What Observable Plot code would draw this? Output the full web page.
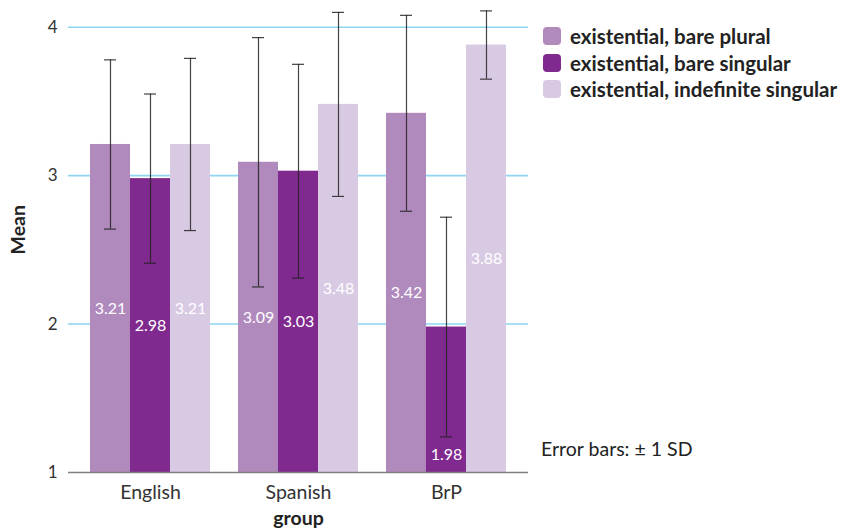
<!DOCTYPE html>
<html>
<head>
<meta charset="utf-8">
<script src="https://cdn.jsdelivr.net/npm/d3@7"></script>
<script src="https://cdn.jsdelivr.net/npm/@observablehq/plot@0.6"></script>
<style>
  html, body { margin: 0; padding: 0; background: #fff; }
  #wrap { position: relative; width: 844px; height: 532px; font-family: Lato, "Open Sans", sans-serif; color: #222; }
  #wrap svg { position: absolute; left: 0; top: 0; }
  .legend { position: absolute; left: 543px; top: 23px; }
  .legend .row { display: flex; align-items: center; height: 26.5px; font-weight: bold; font-size: 20.5px; white-space: nowrap; }
  .legend .sw { width: 18px; height: 18px; border-radius: 4px; margin-right: 9px; flex: none; }
  .note { position: absolute; left: 541px; top: 437px; font-size: 19.5px; color: #222; white-space: nowrap; }
</style>
</head>
<body>
<div id="wrap"></div>
<script>
// Mean rating per group and condition, with standard deviations
const groups = ["English", "Spanish", "BrP"];
const series = ["existential, bare plural", "existential, bare singular", "existential, indefinite singular"];
const colors = ["#b089bd", "#80298f", "#d9cae4"];
const meanBarePlural = [3.21, 3.09, 3.42];
const meanBareSingular = [2.98, 3.03, 1.98];
const meanIndefSingular = [3.21, 3.48, 3.88];
const sdBarePlural = [0.57, 0.84, 0.66];
const sdBareSingular = [0.57, 0.72, 0.74];
const sdIndefSingular = [0.58, 0.62, 0.23];
const yTicks = [1, 2, 3, 4];

const means = [meanBarePlural, meanBareSingular, meanIndefSingular];
const sds = [sdBarePlural, sdBareSingular, sdIndefSingular];

const rows = series.map((s, i) => groups.map((g, j) => ({
  group: g, series: s, mean: means[i][j], sd: sds[i][j]
})));

// value label sits mid-bar, or below the error bar when the bar is short
const labelY = d => {
  const mid = (1 + d.mean) / 2;
  const lo = d.mean - d.sd;
  return lo > mid + 0.1 ? mid : (1 + lo) / 2;
};

const barW = 40, band = 120, cap = 12;
const errStyle = {stroke: "#222", strokeWidth: 1.2, strokeOpacity: 0.85};
const marks = [
  Plot.gridY(yTicks.filter(t => t > 1), {stroke: "#8dd5f0", strokeOpacity: 1, strokeWidth: 1.6})
];
rows.forEach((data, i) => {
  marks.push(
    Plot.barY(data, {
      x: "group", y1: 1, y2: "mean", fill: colors[i],
      insetLeft: barW * i, insetRight: barW * (2 - i)
    })
  );
});
rows.forEach((data, i) => {
  const off = -barW + barW * i;
  const c0 = barW / 2 + barW * i;
  const capInset = {insetLeft: c0 - cap / 2, insetRight: band - c0 - cap / 2};
  marks.push(
    Plot.ruleX(data, {x: "group", y1: d => d.mean - d.sd, y2: d => d.mean + d.sd, dx: off, ...errStyle}),
    Plot.tickY(data, {x: "group", y: d => d.mean + d.sd, ...capInset, ...errStyle}),
    Plot.tickY(data, {x: "group", y: d => d.mean - d.sd, ...capInset, ...errStyle}),
    Plot.text(data, {x: "group", y: labelY, dx: off, text: d => d.mean.toFixed(2), fill: "white", fontSize: 16})
  );
});
marks.push(
  Plot.ruleY([1], {stroke: "#808080", strokeWidth: 1.6}),
  Plot.axisY({ticks: yTicks, tickSize: 0, tickPadding: 11, fontSize: 17, label: null, tickFormat: d3.format("d")}),
  Plot.axisX({tickSize: 0, tickPadding: 13, fontSize: 19.5, label: null}),
  Plot.text(["group"], {frameAnchor: "bottom", dy: 52, fontSize: 19.5, fontWeight: "bold", fill: "#222"}),
  Plot.text(["Mean"], {frameAnchor: "left", dx: -50, dy: 18, rotate: -90, fontSize: 19.5, fontWeight: "bold", fill: "#222"})
);

const chart = Plot.plot({
  width: 844,
  height: 532,
  marginLeft: 68,
  marginRight: 316,
  marginTop: 0,
  marginBottom: 60,
  style: {fontFamily: "Lato, 'Open Sans', sans-serif", color: "#333", background: "white", overflow: "visible"},
  x: {domain: groups, paddingInner: 0.189, paddingOuter: 0.1486, round: false},
  y: {domain: [1, 4.18]},
  marks
});

const wrap = document.getElementById("wrap");
wrap.appendChild(chart);

const legend = document.createElement("div");
legend.className = "legend";
series.forEach((s, i) => {
  const row = document.createElement("div");
  row.className = "row";
  const sw = document.createElement("span");
  sw.className = "sw";
  sw.style.background = colors[i];
  row.appendChild(sw);
  row.appendChild(document.createTextNode(s));
  legend.appendChild(row);
});
wrap.appendChild(legend);

const note = document.createElement("div");
note.className = "note";
note.textContent = "Error bars: \u00b1 1 SD";
wrap.appendChild(note);
</script>
</body>
</html>
